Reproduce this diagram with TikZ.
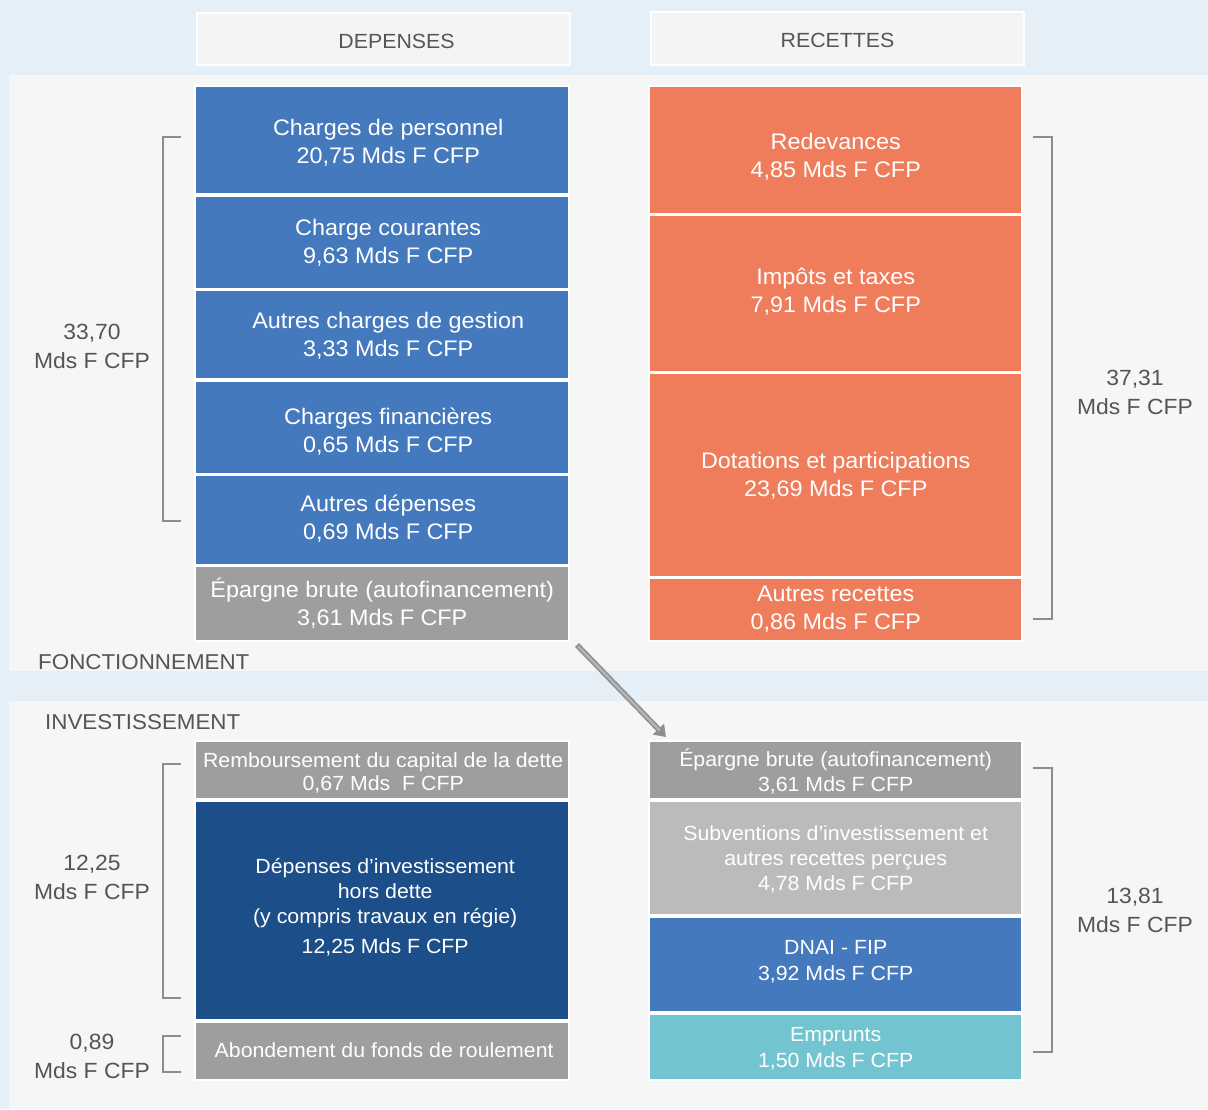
\documentclass[tikz,border=0pt]{standalone}
\usepackage{fontspec}
\setmainfont{Liberation Sans}[FakeStretch=1.04]
\usetikzlibrary{arrows.meta}
\definecolor{bgblue}{HTML}{E5EFF8}
\definecolor{panel}{HTML}{F6F6F6}
\definecolor{hdrfill}{HTML}{F4F4F4}
\definecolor{cblue}{HTML}{4479BD}
\definecolor{corange}{HTML}{EF7C5B}
\definecolor{cgray}{HTML}{9E9E9E}
\definecolor{clgray}{HTML}{BBBBBB}
\definecolor{cdblue}{HTML}{1C4E8A}
\definecolor{cteal}{HTML}{72C4D0}
\definecolor{ctext}{HTML}{555555}
\definecolor{cbrk}{HTML}{8C8C8C}
\definecolor{arrdark}{HTML}{8E8E8E}
\definecolor{arrlight}{HTML}{B4B4B4}
\tikzset{
  bx/.style={anchor=north west, inner sep=0pt},
  tx/.style={align=center, inner sep=0pt, text=white, font=\fontsize{22.5}{28}\selectfont},
  txs/.style={tx, font=\fontsize{20.5}{23}\selectfont},
  txm/.style={tx, font=\fontsize{20.5}{25}\selectfont},
  txd/.style={tx, font=\fontsize{20.5}{26}\selectfont},
  hdr/.style={anchor=north west, inner sep=0pt, fill=hdrfill, draw=white, line width=2pt},
  htx/.style={inner sep=0pt, text=ctext, font=\fontsize{20.5}{24}\selectfont},
  lbl/.style={align=center, text=ctext, inner sep=0pt, font=\fontsize{22}{29}\selectfont},
  sec/.style={anchor=base west, inner sep=0pt, text=ctext, font=\fontsize{21.5}{26}\selectfont},
  brk/.style={draw=cbrk, line width=1.5pt}
}
\begin{document}
\begin{tikzpicture}[x=1pt,y=-1pt]
\useasboundingbox (0,0) rectangle (1208,1109);
% backgrounds
\fill[bgblue] (0,0) rectangle (1208,1109);
\fill[panel] (9,75) rectangle (1208,670.5);
\fill[panel] (9,701) rectangle (1208,1109);
% headers
\node[hdr, minimum width=373pt, minimum height=52pt,
  label={[htx, xshift=13pt, yshift=-2pt]center:DEPENSES}] (hdep) at (196,12) {};
\node[hdr, minimum width=373pt, minimum height=53pt,
  label={[htx, yshift=-2pt]center:RECETTES}] (hrec) at (650,11) {};
% white backings of columns
\fill[white] (194,85) rectangle (570,642);
\fill[white] (648,85) rectangle (1023,642);
\fill[white] (194,740) rectangle (570,1081);
\fill[white] (648,740) rectangle (1023,1081);
% fonctionnement - depenses
\node[bx, fill=cblue, minimum width=372pt, minimum height=106pt,
  label={[tx, xshift=6pt, yshift=-3pt]center:{Charges de personnel\\20,75 Mds F CFP}}] (c1) at (196,87) {};
\node[bx, fill=cblue, minimum width=372pt, minimum height=91pt,
  label={[tx, xshift=6pt, yshift=-0.5pt]center:{Charge courantes\\9,63 Mds F CFP}}] (c2) at (196,197) {};
\node[bx, fill=cblue, minimum width=372pt, minimum height=87pt,
  label={[tx, xshift=6pt, yshift=-1.5pt]center:{Autres charges de gestion\\3,33 Mds F CFP}}] (c3) at (196,291) {};
\node[bx, fill=cblue, minimum width=372pt, minimum height=91pt,
  label={[tx, xshift=6pt, yshift=-4pt]center:{Charges financières\\0,65 Mds F CFP}}] (c4) at (196,382) {};
\node[bx, fill=cblue, minimum width=372pt, minimum height=88pt,
  label={[tx, xshift=6pt, yshift=2pt]center:{Autres dépenses\\0,69 Mds F CFP}}] (c5) at (196,476) {};
\node[bx, fill=cgray, minimum width=372pt, minimum height=73pt,
  label={[tx, yshift=1pt]center:{Épargne brute (autofinancement)\\3,61 Mds F CFP}}] (ep1) at (196,567) {};
% fonctionnement - recettes
\node[bx, fill=corange, minimum width=371pt, minimum height=126pt,
  label={[tx, yshift=-7pt]center:{Redevances\\4,85 Mds F CFP}}] (r1) at (650,87) {};
\node[bx, fill=corange, minimum width=371pt, minimum height=155pt,
  label={[tx, yshift=2pt]center:{Impôts et taxes\\7,91 Mds F CFP}}] (r2) at (650,216) {};
\node[bx, fill=corange, minimum width=371pt, minimum height=202pt,
  label={[tx, yshift=-1pt]center:{Dotations et participations\\23,69 Mds F CFP}}] (r3) at (650,374) {};
\node[bx, fill=corange, minimum width=371pt, minimum height=61pt,
  label={[tx, yshift=1pt]center:{Autres recettes\\0,86 Mds F CFP}}] (r4) at (650,579) {};
% investissement - depenses
\node[bx, fill=cgray, minimum width=372pt, minimum height=56pt,
  label={[txs, xshift=1pt, yshift=-3pt]center:{Remboursement du capital de la dette\\0,67 Mds\ \ F CFP}}] (i1) at (196,742) {};
\node[bx, fill=cdblue, minimum width=372pt, minimum height=217pt,
  label={[txm, xshift=3pt, yshift=3pt]center:{Dépenses d’investissement\\hors dette\\(y compris travaux en régie)\\[5pt]12,25 Mds F CFP}}] (i2) at (196,802) {};
\node[bx, fill=cgray, minimum width=372pt, minimum height=56pt,
  label={[txs, xshift=2pt, yshift=1pt]center:{Abondement du fonds de roulement}}] (i3) at (196,1023) {};
% investissement - recettes
\node[bx, fill=cgray, minimum width=371pt, minimum height=56pt,
  label={[txm, yshift=-1.5pt]center:{Épargne brute (autofinancement)\\3,61 Mds F CFP}}] (ep2) at (650,742) {};
\node[bx, fill=clgray, minimum width=371pt, minimum height=112pt,
  label={[txm, yshift=-1pt]center:{Subventions d’investissement et\\autres recettes perçues\\4,78 Mds F CFP}}] (j2) at (650,802) {};
\node[bx, fill=cblue, minimum width=371pt, minimum height=93pt,
  label={[txd, yshift=3pt]center:{DNAI - FIP\\3,92 Mds F CFP}}] (j3) at (650,918) {};
\node[bx, fill=cteal, minimum width=371pt, minimum height=64pt,
  label={[txd, yshift=-2pt]center:{Emprunts\\1,50 Mds F CFP}}] (j4) at (650,1015) {};
% section labels
\node[sec] (fonc) at (38,669) {FONCTIONNEMENT};
\node[sec] (inv) at (45,729) {INVESTISSEMENT};
% brackets
\draw[brk] (181,137) -- (163,137) -- (163,521) -- (181,521);
\draw[brk] (1033,137) -- (1052,137) -- (1052,619) -- (1033,619);
\draw[brk] (181,764) -- (163,764) -- (163,998) -- (181,998);
\draw[brk] (181,1036) -- (163,1036) -- (163,1072) -- (181,1072);
\draw[brk] (1033,768) -- (1052,768) -- (1052,1052) -- (1033,1052);
% bracket labels
\node[lbl] (t1) at (92,346) {33,70\\Mds F CFP};
\node[lbl] (t2) at (1135,392) {37,31\\Mds F CFP};
\node[lbl] (t3) at (92,877) {12,25\\Mds F CFP};
\node[lbl] (t4) at (1135,910) {13,81\\Mds F CFP};
\node[lbl] (t5) at (92,1056) {0,89\\Mds F CFP};
% arrow
\coordinate (a1) at (577,645);
\coordinate (a2) at (666,737);
\draw[arrdark, line width=5.5pt, -{Triangle[length=11pt,width=15pt]}] (a1) -- (a2);
\draw[arrlight, line width=2.5pt, shorten >=9pt, shorten <=1.5pt] (a1) -- (a2);
\end{tikzpicture}
\end{document}
